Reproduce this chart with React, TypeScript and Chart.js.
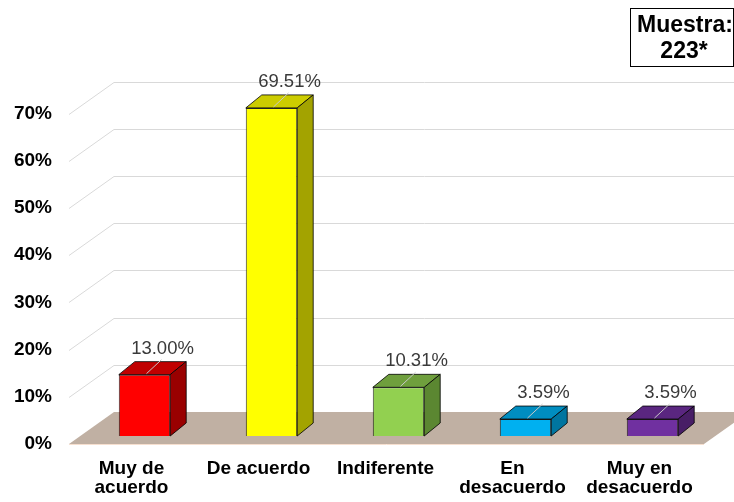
import React, { useEffect, useRef } from 'react';
import { Chart, registerables } from 'chart.js';

Chart.register(...registerables);

// ---- data ----
const categories: (string | string[])[] = [
  ['Muy de', 'acuerdo'],
  'De acuerdo',
  'Indiferente',
  ['En', 'desacuerdo'],
  ['Muy en', 'desacuerdo'],
];
const values = [13.0, 69.51, 10.31, 3.59, 3.59];
const frontColors = ['#FF0000', '#FFFF00', '#92D050', '#00B0F0', '#7030A0'];
const topColors = ['#C00000', '#CCCC00', '#6F9F3D', '#008DC0', '#5A2680'];
const sideColors = ['#990000', '#A3A300', '#5B8731', '#0075A0', '#481E66'];
const yMin = 0;
const yMax = 70;
const yStep = 10;
const sampleLines = ['Muestra:', '223*'];

const FONT = '"Liberation Sans", Arial, sans-serif';
const FLOOR_FRONT = { dx: -12, dy: 8 };
const FLOOR_BACK = { dx: 33, dy: -24 };
const BAR_DEPTH = { dx: 16, dy: -13 };

const threeD = {
  id: 'threeD',
  beforeDatasetsDraw(chart: any) {
    const { ctx, chartArea: a } = chart;
    const y = chart.scales.y;
    ctx.save();
    // gridlines: diagonal on side wall + horizontal on back wall
    ctx.strokeStyle = '#D9D9D9';
    ctx.lineWidth = 1;
    y.ticks.forEach((t: any) => {
      if (t.value === 0) return;
      const py = Math.round(y.getPixelForValue(t.value)) + 0.5;
      ctx.beginPath();
      ctx.moveTo(a.left + FLOOR_FRONT.dx, py + FLOOR_FRONT.dy);
      ctx.lineTo(a.left + FLOOR_BACK.dx, py + FLOOR_BACK.dy);
      ctx.lineTo(a.right + FLOOR_BACK.dx, py + FLOOR_BACK.dy);
      ctx.stroke();
    });
    // floor
    const y0 = y.getPixelForValue(0);
    ctx.fillStyle = '#C0B0A3';
    ctx.beginPath();
    ctx.moveTo(a.left + FLOOR_FRONT.dx, y0 + FLOOR_FRONT.dy);
    ctx.lineTo(a.right + FLOOR_FRONT.dx, y0 + FLOOR_FRONT.dy);
    ctx.lineTo(a.right + FLOOR_BACK.dx, y0 + FLOOR_BACK.dy);
    ctx.lineTo(a.left + FLOOR_BACK.dx, y0 + FLOOR_BACK.dy);
    ctx.closePath();
    ctx.fill();
    ctx.strokeStyle = '#F6DFCF';
    ctx.beginPath();
    ctx.moveTo(a.left + FLOOR_FRONT.dx, y0 + FLOOR_FRONT.dy + 0.5);
    ctx.lineTo(a.right + FLOOR_FRONT.dx, y0 + FLOOR_FRONT.dy + 0.5);
    ctx.stroke();

    // bar top and side faces
    const meta = chart.getDatasetMeta(0);
    ctx.strokeStyle = 'rgba(0,0,0,0.8)';
    ctx.lineJoin = 'round';
    meta.data.forEach((bar: any, i: number) => {
      const { x, y: top, base, width } = bar.getProps(['x', 'y', 'base', 'width'], true);
      const l = x - width / 2;
      const r = x + width / 2;
      const { dx, dy } = BAR_DEPTH;
      ctx.fillStyle = topColors[i];
      ctx.beginPath();
      ctx.moveTo(l, top);
      ctx.lineTo(r, top);
      ctx.lineTo(r + dx, top + dy);
      ctx.lineTo(l + dx, top + dy);
      ctx.closePath();
      ctx.fill();
      ctx.stroke();
      ctx.fillStyle = sideColors[i];
      ctx.beginPath();
      ctx.moveTo(r, top);
      ctx.lineTo(r + dx, top + dy);
      ctx.lineTo(r + dx, base + dy);
      ctx.lineTo(r, base);
      ctx.closePath();
      ctx.fill();
      ctx.stroke();
    });
    ctx.restore();
  },
  afterDatasetsDraw(chart: any) {
    const { ctx } = chart;
    const meta = chart.getDatasetMeta(0);
    ctx.save();
    meta.data.forEach((bar: any, i: number) => {
      const { x, y: top } = bar.getProps(['x', 'y'], true);
      ctx.strokeStyle = '#C8C8C8';
      ctx.lineWidth = 1;
      ctx.beginPath();
      ctx.moveTo(x + 2, top - 1);
      ctx.lineTo(x + 17, top - 15);
      ctx.stroke();
      ctx.fillStyle = '#3A3A3A';
      ctx.font = `18.5px ${FONT}`;
      ctx.textAlign = 'center';
      ctx.textBaseline = 'middle';
      ctx.fillText(values[i].toFixed(2) + '%', x + 18, top - 26);
    });
    // sample box
    ctx.fillStyle = '#FFFFFF';
    ctx.fillRect(630.5, 8.5, 103, 58);
    ctx.strokeStyle = '#000000';
    ctx.lineWidth = 1;
    ctx.strokeRect(630.5, 8.5, 103, 58);
    ctx.fillStyle = '#000000';
    ctx.font = `bold 23px ${FONT}`;
    ctx.textAlign = 'center';
    ctx.textBaseline = 'middle';
    ctx.fillText(sampleLines[0], 685, 26);
    ctx.fillText(sampleLines[1], 684, 52);
    ctx.restore();
  },
};

export default function App() {
  const ref = useRef<HTMLCanvasElement>(null);
  useEffect(() => {
    document.body.style.margin = '0';
    const canvas = ref.current!;
    const chart = new Chart(canvas, {
      type: 'bar',
      data: {
        labels: categories,
        datasets: [
          {
            data: values,
            backgroundColor: frontColors,
            borderColor: 'rgba(0,0,0,0.8)',
            borderWidth: 1,
            barPercentage: 0.405,
            categoryPercentage: 1,
          },
        ],
      },
      options: {
        responsive: false,
        animation: false,
        devicePixelRatio: 1,
        layout: { padding: { top: 105.6, right: 18, left: 0, bottom: 0 } },
        plugins: { legend: { display: false }, tooltip: { enabled: false } },
        scales: {
          x: {
            grid: { display: false, drawTicks: false },
            border: { display: false },
            ticks: {
              font: { family: FONT, size: 19, weight: 'bold', lineHeight: 0.96 },
              color: '#000000',
              padding: 24,
              labelOffset: -13,
              maxRotation: 0,
              autoSkip: false,
            },
            afterFit: (s: any) => {
              s.height = 66;
              s.paddingLeft = 0;
              s.paddingRight = 0;
            },
          },
          y: {
            min: yMin,
            max: yMax,
            grid: { display: false, drawTicks: false },
            border: { display: false },
            ticks: {
              stepSize: yStep,
              callback: (v: any) => v + '%',
              font: { family: FONT, size: 19, weight: 'bold' },
              color: '#000000',
              padding: 29,
              labelOffset: 8,
            },
            afterFit: (s: any) => {
              s.width = 81;
              s.paddingTop = 0;
              s.paddingBottom = 0;
            },
          },
        },
      },
      plugins: [threeD],
    });
    return () => chart.destroy();
  }, []);
  return (
    <div style={{ position: 'absolute', left: 0, top: 0, width: 734, height: 502, background: '#fff' }}>
      <canvas ref={ref} width={734} height={502} style={{ width: 734, height: 502, display: 'block' }} />
    </div>
  );
}
